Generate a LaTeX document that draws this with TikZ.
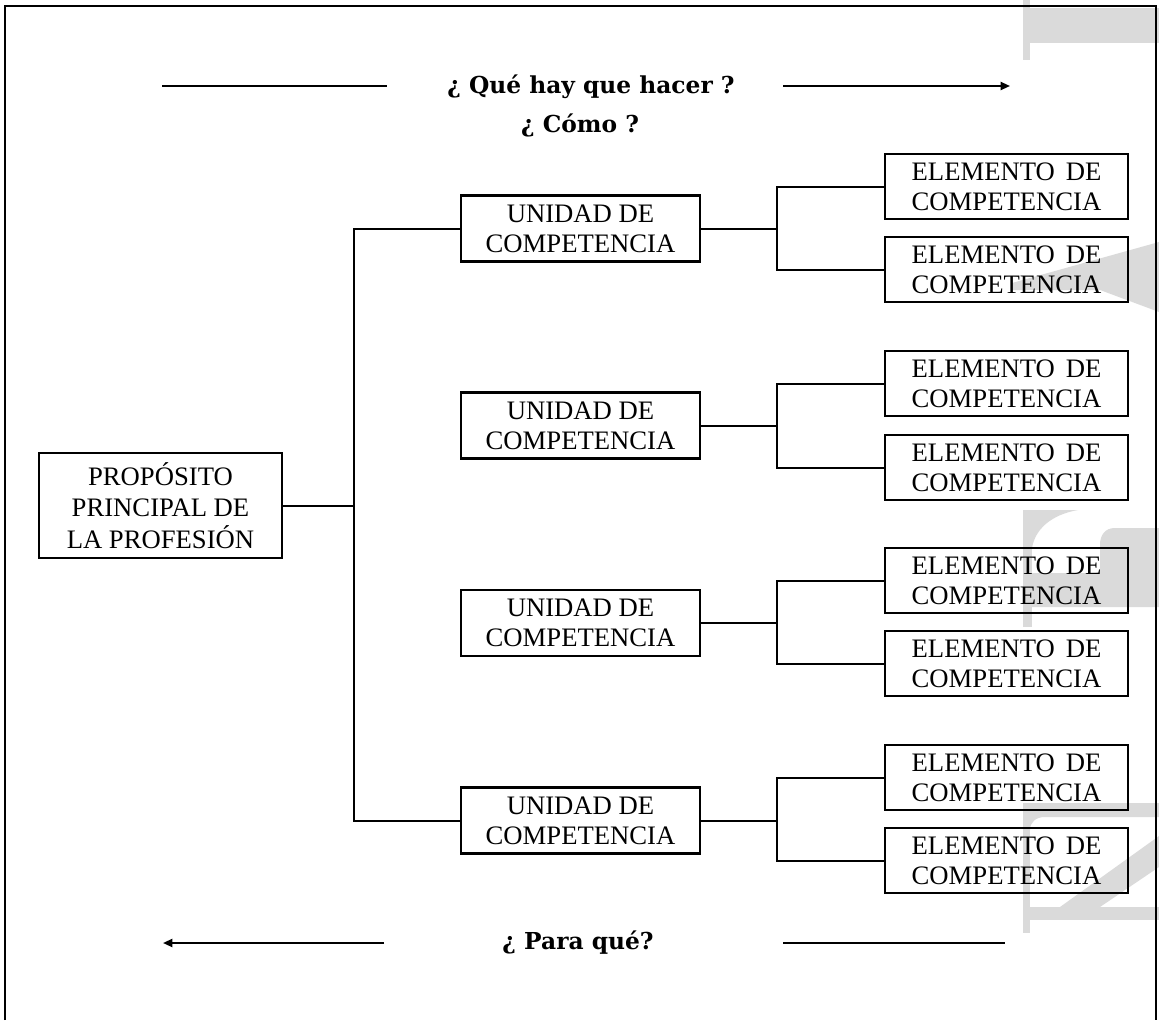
\documentclass[tikz,border=0pt]{standalone}
\usepackage{fontspec}
\setmainfont{Liberation Serif}
\newfontfamily\hdrfont{DejaVu Serif}
\usetikzlibrary{arrows.meta}
\definecolor{wmgray}{RGB}{218,218,218}

% first line of an element box, stretched to the width of the second
\newcommand\elemlabel{\setbox0=\hbox{COMPETENCIA}\hbox to \wd0{ELEMENTO\hfill DE}\\COMPETENCIA}

\begin{document}
\begin{tikzpicture}[x=0.75pt,y=-0.75pt,
  line width=1.5pt,
  boxbase/.style={draw, line width=1.8pt, align=center, inner sep=0pt,
    font=\fontsize{20}{22.5}\selectfont},
  propbox/.style={boxbase, minimum width=182.25pt, minimum height=78.75pt,
    font=\fontsize{20}{23.5}\selectfont},
  unitbox/.style={boxbase, minimum width=179.25pt, minimum height=49.5pt},
  elembox/.style={boxbase, minimum width=182.25pt, minimum height=48.75pt},
  hdr/.style={font=\hdrfont\bfseries\fontsize{17.5}{21}\selectfont, inner sep=0pt, anchor=base},
  tip/.style={-{Triangle[length=7pt,width=6pt]}}]

\useasboundingbox (0,0) rectangle (1159,1020);

% background lettering along the right edge
\fill[wmgray] (1023,0) rectangle (1030,60);
\fill[wmgray] (1030,8) rectangle (1159,43);
\fill[wmgray] (1012,283) -- (1159,242) -- (1159,312) -- (1100,290) -- (1012,290) -- cycle;
\fill[wmgray] (1023,510) rectangle (1032,627);
\fill[wmgray] (1032,510) -- (1078,510) .. controls (1050,515) and (1035,530) .. (1032,548) -- cycle;
\fill[wmgray] (1032,573) -- (1100,573) -- (1100,545) .. controls (1100,535) and (1105,528) .. (1115,528)
  -- (1159,528) -- (1159,607) -- (1032,607) -- cycle;
\fill[wmgray] (1023,803) rectangle (1030,933);
\fill[wmgray] (1030,803) -- (1159,803) -- (1159,817) -- (1045,817) .. controls (1036,817) and (1030,822) .. (1030,830) -- cycle;
\fill[wmgray] (1030,907) rectangle (1159,920);
\fill[wmgray] (1060,907) -- (1159,836) -- (1159,867) -- (1100,907) -- cycle;

% frame, open at the bottom
\draw (5,1020) -- (5,6) -- (1156,6) -- (1156,1020);

% headings and direction arrows
\node[hdr] (qhacer) at (591,94) {¿ Qué hay que hacer ?};
\node[hdr] (qcomo) at (580,133) {¿ Cómo ?};
\node[hdr] (qpara) at (578,949) {¿ Para qué?};

\coordinate (tl1) at (162,86);  \coordinate (tl2) at (387,86);
\coordinate (tr1) at (783,86);  \coordinate (tr2) at (1010,86);
\coordinate (bl1) at (163,943); \coordinate (bl2) at (384,943);
\coordinate (br1) at (783,943); \coordinate (br2) at (1005,943);
\draw (tl1) -- (tl2);
\draw[tip] (tr1) -- (tr2);
\draw[tip] (bl2) -- (bl1);
\draw (br1) -- (br2);

% main purpose
\node[propbox] (prop) at (160.5,505.5) {PROPÓSITO\\PRINCIPAL DE\\LA PROFESIÓN};

\coordinate (trunk) at (354,0);
\coordinate (fork) at (777,0);

% units of competence and their elements
\foreach \i/\uy/\ea/\eb in {1/228.5/186.5/269.5, 2/425.5/383.5/467.5,
                            3/623/580.5/663.5, 4/820.5/777.5/860.5} {
  \node[unitbox] (u\i) at (580.5,\uy) {UNIDAD DE\\COMPETENCIA};
  \node[elembox] (e\i-a) at (1006.5,\ea) {\elemlabel};
  \node[elembox] (e\i-b) at (1006.5,\eb) {\elemlabel};
  \draw (u\i.east) -- (u\i.east -| fork);
  \draw (e\i-a.west) -- (e\i-a.west -| fork) -- (e\i-b.west -| fork) -- (e\i-b.west);
}

% trunk joining the purpose to the first and last units
\draw (u1.west) -- (u1.west -| trunk) -- (u4.west -| trunk) -- (u4.west);
\draw (prop.east) -- (prop.east -| trunk);

\end{tikzpicture}
\end{document}
